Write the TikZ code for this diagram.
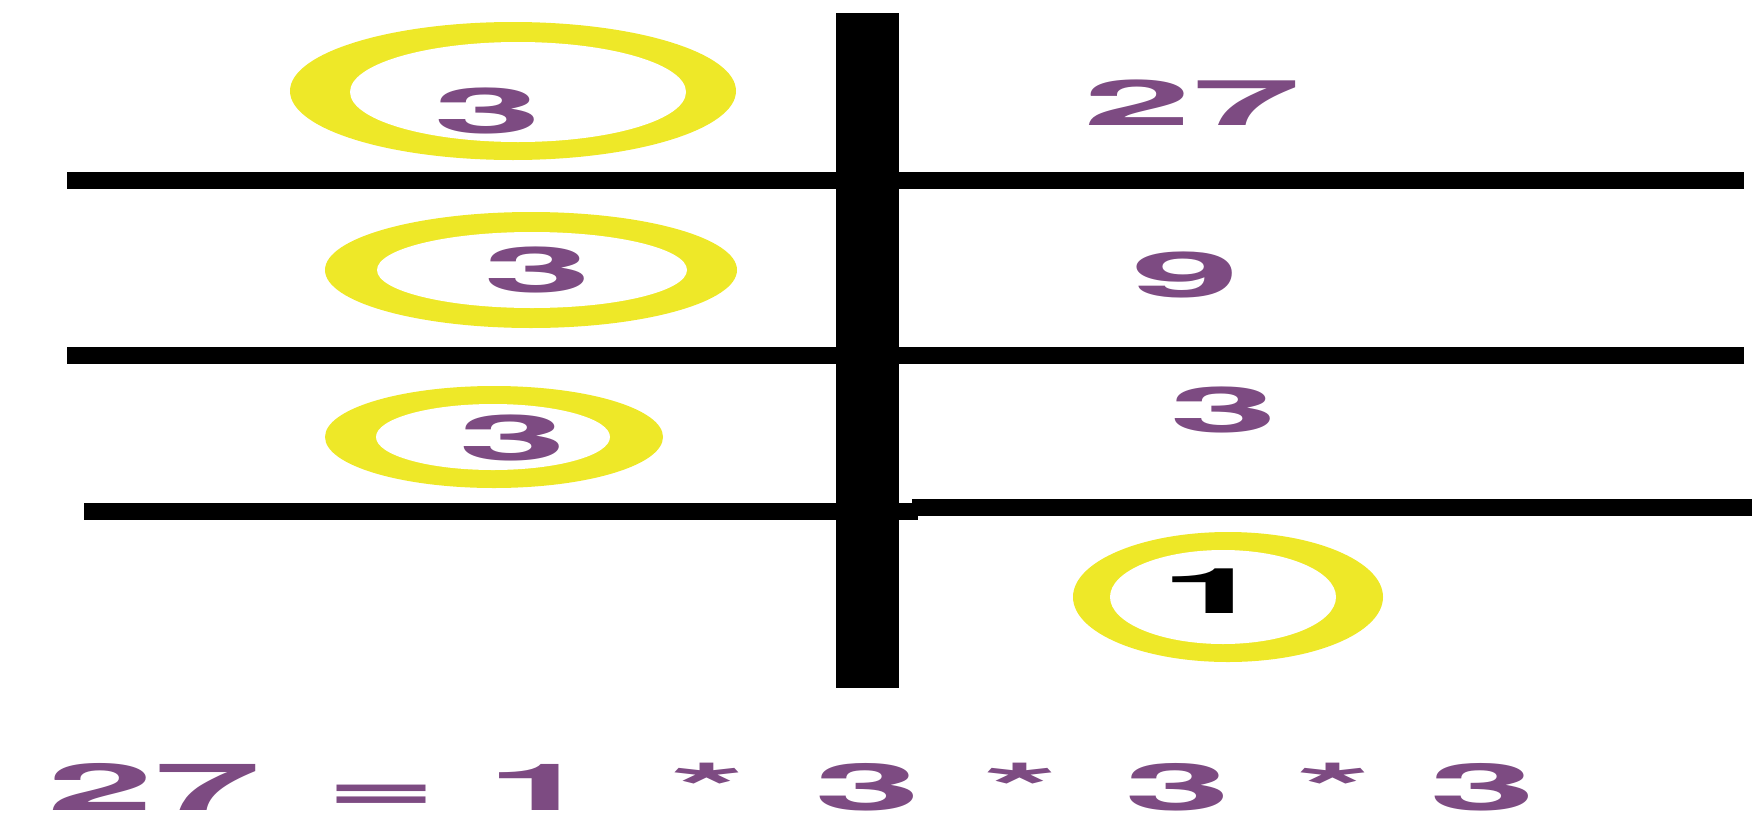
\documentclass[tikz,border=0pt]{standalone}
\usepackage{fontspec}
\newfontfamily\cifra{TeX Gyre Heros}
\definecolor{morado}{RGB}{125,75,130}
\definecolor{amarillo}{RGB}{238,232,40}
\tikzset{
  num/.style={text=morado, anchor=base, inner sep=0pt,
    font=\cifra\bfseries\fontsize{63}{63}\selectfont, xscale=3.1},
  suma/.style={text=morado, anchor=base, inner sep=0pt,
    font=\cifra\bfseries\fontsize{65}{65}\selectfont, xscale=2.95},
  raya/.style={line width=17pt},
}
\begin{document}
\begin{tikzpicture}[x=1pt, y=-1pt]
        \useasboundingbox (0,0) rectangle (1755,822);

        % Anillos amarillos
        \fill[amarillo] (513,91) ellipse [x radius=223, y radius=69];
        \fill[white] (518,92) ellipse [x radius=168, y radius=50];
        \fill[amarillo] (531,270) ellipse [x radius=206, y radius=58];
        \fill[white] (532,270) ellipse [x radius=155, y radius=38];
        \fill[amarillo] (494,437) ellipse [x radius=169, y radius=51];
        \fill[white] (493,437) ellipse [x radius=117, y radius=33];
        \fill[amarillo] (1228,597) ellipse [x radius=155, y radius=65];
        \fill[white] (1223,597) ellipse [x radius=113, y radius=47];

        % Barra vertical
        \fill[black] (836,13) rectangle (899,688);

        % Rayas horizontales
        \draw[raya] (67,180) -- (1744,180);
        \draw[raya] (67,355) -- (1744,355);
        \draw[raya] (84,511) -- (918,511);
        \draw[raya] (912,507) -- (1752,507);

        % Divisores (izquierda) y cocientes (derecha)
        \node[num] (d1) at (488,133) {3};
        \node[num] (q0) at (1192,125) {27};
        \node[num] (d2) at (538,292) {3};
        \node[num] (q1) at (1186,297) {9};
        \node[num] (d3) at (513,460) {3};
        \node[num] (q2) at (1224,432) {3};
        \node[num, text=black] (q3) at (1214,613) {1};

        % Resultado
        \foreach \x/\t [count=\i] in {154/27, 381/=, 540/1, 708/*, 868/3,
                                      1021/*, 1178/3, 1334/*, 1483/3}
            \node[suma] (r\i) at (\x,810) {\t};
\end{tikzpicture}
\end{document}
